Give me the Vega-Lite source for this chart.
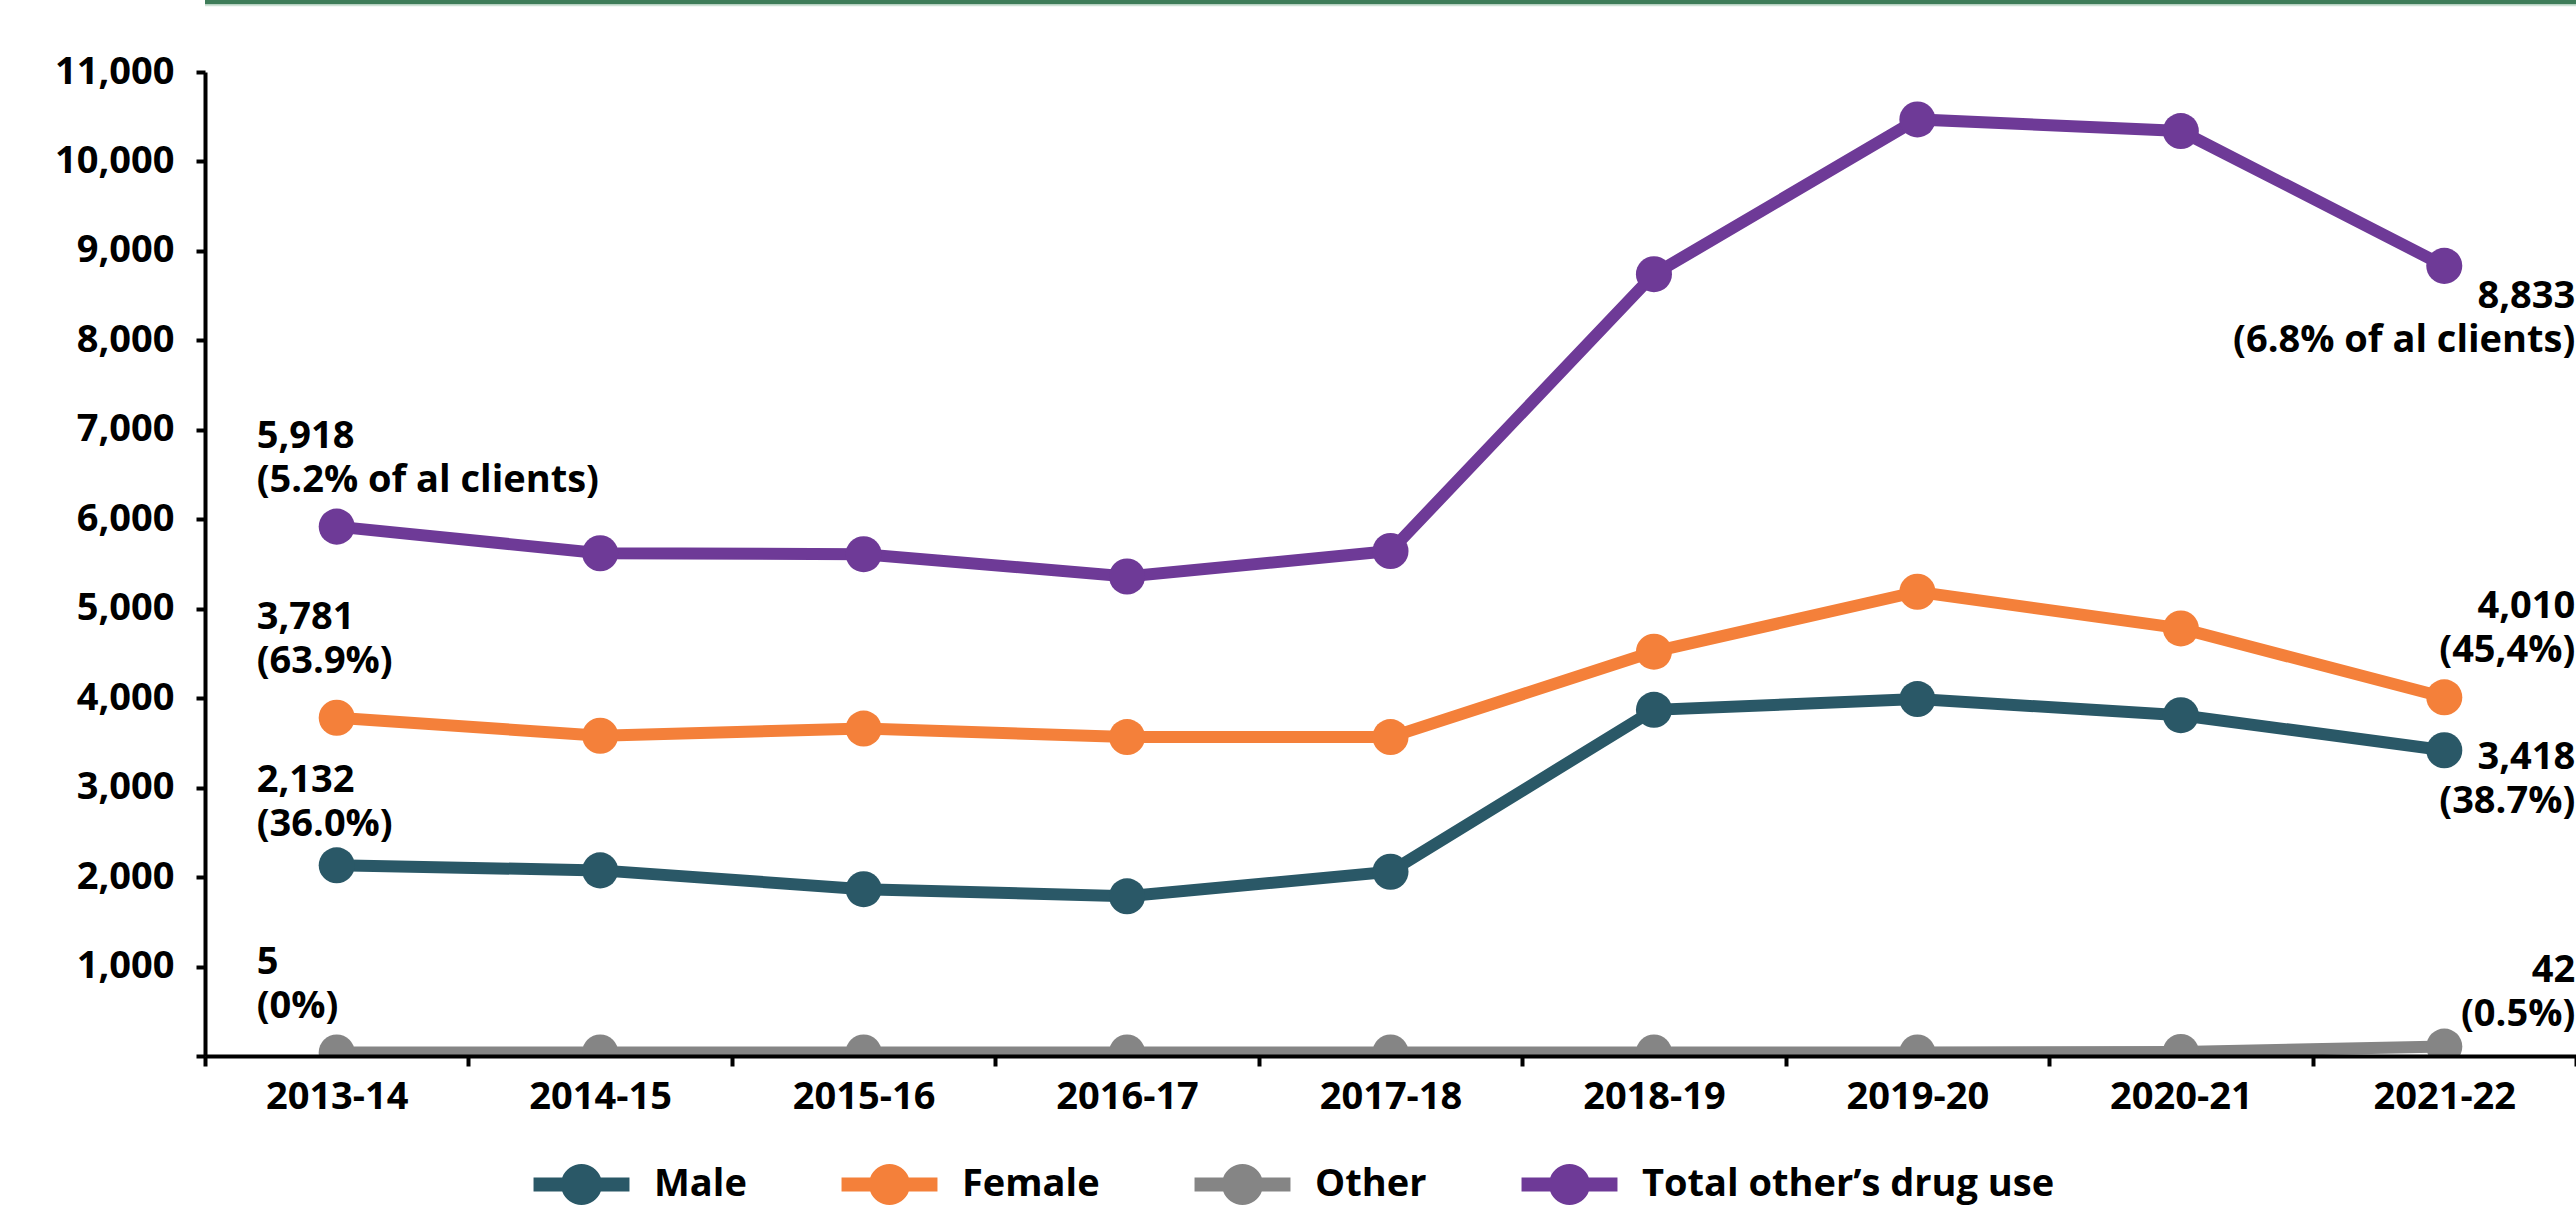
{
  "$schema": "https://vega.github.io/schema/vega-lite/v6.json",
  "width": 2371,
  "height": 984,
  "autosize": {"type": "none"},
  "padding": {"left": 205, "top": 72, "right": 0, "bottom": 159},
  "background": "white",
  "config": {
    "font": "Open Sans",
    "view": {"stroke": null},
    "axis": {
      "labelFont": "Open Sans",
      "labelFontSize": 38,
      "labelFontWeight": "bold",
      "labelColor": "black",
      "domainColor": "black",
      "tickColor": "black",
      "domainWidth": 4,
      "tickWidth": 4,
      "grid": false,
      "title": null
    },
    "legend": {
      "orient": "none",
      "legendX": 356,
      "legendY": 1092,
      "direction": "horizontal",
      "columns": 4,
      "title": null,
      "padding": 0,
      "labelFont": "Open Sans",
      "labelFontSize": 38,
      "labelFontWeight": "bold",
      "labelColor": "black",
      "labelLimit": 1000,
      "labelOffset": 52,
      "columnPadding": 94,
      "symbolSize": 1681,
      "symbolStrokeWidth": 0,
      "symbolOpacity": 1,
      "symbolType": "M-2.34,-0.34L-0.94,-0.34A1,1 0 0 1 0.94,-0.34L2.34,-0.34L2.34,0.34L0.94,0.34A1,1 0 0 1 -0.94,0.34L-2.34,0.34Z"
    }
  },
  "datasets": {
    "counts": [
      {"year": "2013-14", "group": "Male", "count": 2132},
      {"year": "2014-15", "group": "Male", "count": 2075},
      {"year": "2015-16", "group": "Male", "count": 1865},
      {"year": "2016-17", "group": "Male", "count": 1785},
      {"year": "2017-18", "group": "Male", "count": 2060},
      {"year": "2018-19", "group": "Male", "count": 3870},
      {"year": "2019-20", "group": "Male", "count": 3990},
      {"year": "2020-21", "group": "Male", "count": 3810},
      {"year": "2021-22", "group": "Male", "count": 3418},
      {"year": "2013-14", "group": "Female", "count": 3781},
      {"year": "2014-15", "group": "Female", "count": 3580},
      {"year": "2015-16", "group": "Female", "count": 3660},
      {"year": "2016-17", "group": "Female", "count": 3565},
      {"year": "2017-18", "group": "Female", "count": 3565},
      {"year": "2018-19", "group": "Female", "count": 4520},
      {"year": "2019-20", "group": "Female", "count": 5190},
      {"year": "2020-21", "group": "Female", "count": 4780},
      {"year": "2021-22", "group": "Female", "count": 4010},
      {"year": "2013-14", "group": "Other", "count": 40},
      {"year": "2014-15", "group": "Other", "count": 40},
      {"year": "2015-16", "group": "Other", "count": 40},
      {"year": "2016-17", "group": "Other", "count": 40},
      {"year": "2017-18", "group": "Other", "count": 40},
      {"year": "2018-19", "group": "Other", "count": 40},
      {"year": "2019-20", "group": "Other", "count": 40},
      {"year": "2020-21", "group": "Other", "count": 45},
      {"year": "2021-22", "group": "Other", "count": 105},
      {"year": "2013-14", "group": "Total other’s drug use", "count": 5918},
      {"year": "2014-15", "group": "Total other’s drug use", "count": 5620},
      {"year": "2015-16", "group": "Total other’s drug use", "count": 5610},
      {"year": "2016-17", "group": "Total other’s drug use", "count": 5360},
      {"year": "2017-18", "group": "Total other’s drug use", "count": 5645},
      {"year": "2018-19", "group": "Total other’s drug use", "count": 8740},
      {"year": "2019-20", "group": "Total other’s drug use", "count": 10470},
      {"year": "2020-21", "group": "Total other’s drug use", "count": 10340},
      {"year": "2021-22", "group": "Total other’s drug use", "count": 8833}
    ],
    "labels": [
      {"year": "2013-14", "group": "Total other’s drug use", "count": 5918, "label": ["5,918", "(5.2% of al clients)"]},
      {"year": "2013-14", "group": "Female", "count": 3781, "label": ["3,781", "(63.9%)"]},
      {"year": "2013-14", "group": "Male", "count": 2132, "label": ["2,132", "(36.0%)"]},
      {"year": "2013-14", "group": "Other", "count": 5, "label": ["5", "(0%)"]},
      {"year": "2021-22", "group": "Total other’s drug use", "count": 8833, "label": ["8,833", "(6.8% of al clients)"]},
      {"year": "2021-22", "group": "Female", "count": 4010, "label": ["4,010", "(45,4%)"]},
      {"year": "2021-22", "group": "Male", "count": 3418, "label": ["3,418", "(38.7%)"]},
      {"year": "2021-22", "group": "Other", "count": 42, "label": ["42", "(0.5%)"]}
    ]
  },
  "layer": [
    {
      "data": {"values": [{}]},
      "mark": {"type": "rule", "stroke": "#3e7d59", "strokeWidth": 5, "clip": false},
      "encoding": {"y": {"datum": 11780, "type": "quantitative"}}
    },
    {
      "data": {"values": [{}]},
      "mark": {"type": "rule", "stroke": "#cfe3d6", "strokeWidth": 2, "clip": false},
      "encoding": {"y": {"datum": 11745, "type": "quantitative"}}
    },
    {
      "data": {"name": "counts"},
      "mark": {"type": "line", "strokeWidth": 12, "clip": true},
      "encoding": {
        "x": {
          "field": "year", "type": "ordinal",
          "sort": ["2013-14", "2014-15", "2015-16", "2016-17", "2017-18", "2018-19", "2019-20", "2020-21", "2021-22"],
          "scale": {"type": "band", "paddingInner": 0, "paddingOuter": 0},
          "axis": {"labelAngle": 0, "tickBand": "extent", "tickSize": 10, "labelPadding": 12, "zindex": 2, "title": null}
        },
        "y": {
          "field": "count", "type": "quantitative",
          "scale": {"domain": [0, 11000], "nice": false, "zero": true},
          "axis": {"values": [0, 1000, 2000, 3000, 4000, 5000, 6000, 7000, 8000, 9000, 10000, 11000], "format": ",d", "labelExpr": "datum.value === 0 ? '' : datum.label", "tickSize": 9, "labelPadding": 22, "zindex": 2, "title": null}
        },
        "color": {
          "field": "group", "type": "nominal",
          "scale": {"domain": ["Male", "Female", "Other", "Total other’s drug use"], "range": ["#2a5867", "#f4803a", "#858585", "#6e3a97"]},
          "legend": {"symbolSize": 1681, "labelLimit": 1000}
        }
      }
    },
    {
      "data": {"name": "counts"},
      "mark": {"type": "point", "filled": true, "opacity": 1, "size": 1300, "shape": "circle", "clip": true},
      "encoding": {
        "x": {"field": "year", "type": "ordinal", "sort": ["2013-14", "2014-15", "2015-16", "2016-17", "2017-18", "2018-19", "2019-20", "2020-21", "2021-22"]},
        "y": {"field": "count", "type": "quantitative"},
        "color": {"field": "group", "type": "nominal"}
      }
    },
    {
      "data": {"name": "labels"},
      "transform": [{"filter": "datum.year === '2013-14' && datum.group === 'Total other’s drug use'"}],
      "mark": {"type": "text", "align": "left", "baseline": "middle", "dx": -80, "dy": -90, "fontSize": 38, "fontWeight": "bold", "lineHeight": 44, "color": "black"},
      "encoding": {"x": {"field": "year", "type": "ordinal", "sort": ["2013-14", "2014-15", "2015-16", "2016-17", "2017-18", "2018-19", "2019-20", "2020-21", "2021-22"]}, "y": {"field": "count", "type": "quantitative"}, "text": {"field": "label", "type": "nominal"}}
    },
    {
      "data": {"name": "labels"},
      "transform": [{"filter": "datum.year === '2013-14' && datum.group === 'Female'"}],
      "mark": {"type": "text", "align": "left", "baseline": "middle", "dx": -80, "dy": -100, "fontSize": 38, "fontWeight": "bold", "lineHeight": 44, "color": "black"},
      "encoding": {"x": {"field": "year", "type": "ordinal", "sort": ["2013-14", "2014-15", "2015-16", "2016-17", "2017-18", "2018-19", "2019-20", "2020-21", "2021-22"]}, "y": {"field": "count", "type": "quantitative"}, "text": {"field": "label", "type": "nominal"}}
    },
    {
      "data": {"name": "labels"},
      "transform": [{"filter": "datum.year === '2013-14' && datum.group === 'Male'"}],
      "mark": {"type": "text", "align": "left", "baseline": "middle", "dx": -80, "dy": -84, "fontSize": 38, "fontWeight": "bold", "lineHeight": 44, "color": "black"},
      "encoding": {"x": {"field": "year", "type": "ordinal", "sort": ["2013-14", "2014-15", "2015-16", "2016-17", "2017-18", "2018-19", "2019-20", "2020-21", "2021-22"]}, "y": {"field": "count", "type": "quantitative"}, "text": {"field": "label", "type": "nominal"}}
    },
    {
      "data": {"name": "labels"},
      "transform": [{"filter": "datum.year === '2013-14' && datum.group === 'Other'"}],
      "mark": {"type": "text", "align": "left", "baseline": "middle", "dx": -80, "dy": -93, "fontSize": 38, "fontWeight": "bold", "lineHeight": 44, "color": "black"},
      "encoding": {"x": {"field": "year", "type": "ordinal", "sort": ["2013-14", "2014-15", "2015-16", "2016-17", "2017-18", "2018-19", "2019-20", "2020-21", "2021-22"]}, "y": {"field": "count", "type": "quantitative"}, "text": {"field": "label", "type": "nominal"}}
    },
    {
      "data": {"name": "labels"},
      "transform": [{"filter": "datum.year === '2021-22' && datum.group === 'Total other’s drug use'"}],
      "mark": {"type": "text", "align": "right", "baseline": "middle", "dx": 131, "dy": 31, "fontSize": 38, "fontWeight": "bold", "lineHeight": 44, "color": "black"},
      "encoding": {"x": {"field": "year", "type": "ordinal", "sort": ["2013-14", "2014-15", "2015-16", "2016-17", "2017-18", "2018-19", "2019-20", "2020-21", "2021-22"]}, "y": {"field": "count", "type": "quantitative"}, "text": {"field": "label", "type": "nominal"}}
    },
    {
      "data": {"name": "labels"},
      "transform": [{"filter": "datum.year === '2021-22' && datum.group === 'Female'"}],
      "mark": {"type": "text", "align": "right", "baseline": "middle", "dx": 131, "dy": -90, "fontSize": 38, "fontWeight": "bold", "lineHeight": 44, "color": "black"},
      "encoding": {"x": {"field": "year", "type": "ordinal", "sort": ["2013-14", "2014-15", "2015-16", "2016-17", "2017-18", "2018-19", "2019-20", "2020-21", "2021-22"]}, "y": {"field": "count", "type": "quantitative"}, "text": {"field": "label", "type": "nominal"}}
    },
    {
      "data": {"name": "labels"},
      "transform": [{"filter": "datum.year === '2021-22' && datum.group === 'Male'"}],
      "mark": {"type": "text", "align": "right", "baseline": "middle", "dx": 131, "dy": 8, "fontSize": 38, "fontWeight": "bold", "lineHeight": 44, "color": "black"},
      "encoding": {"x": {"field": "year", "type": "ordinal", "sort": ["2013-14", "2014-15", "2015-16", "2016-17", "2017-18", "2018-19", "2019-20", "2020-21", "2021-22"]}, "y": {"field": "count", "type": "quantitative"}, "text": {"field": "label", "type": "nominal"}}
    },
    {
      "data": {"name": "labels"},
      "transform": [{"filter": "datum.year === '2021-22' && datum.group === 'Other'"}],
      "mark": {"type": "text", "align": "right", "baseline": "middle", "dx": 131, "dy": -81, "fontSize": 38, "fontWeight": "bold", "lineHeight": 44, "color": "black"},
      "encoding": {"x": {"field": "year", "type": "ordinal", "sort": ["2013-14", "2014-15", "2015-16", "2016-17", "2017-18", "2018-19", "2019-20", "2020-21", "2021-22"]}, "y": {"field": "count", "type": "quantitative"}, "text": {"field": "label", "type": "nominal"}}
    }
  ]
}
